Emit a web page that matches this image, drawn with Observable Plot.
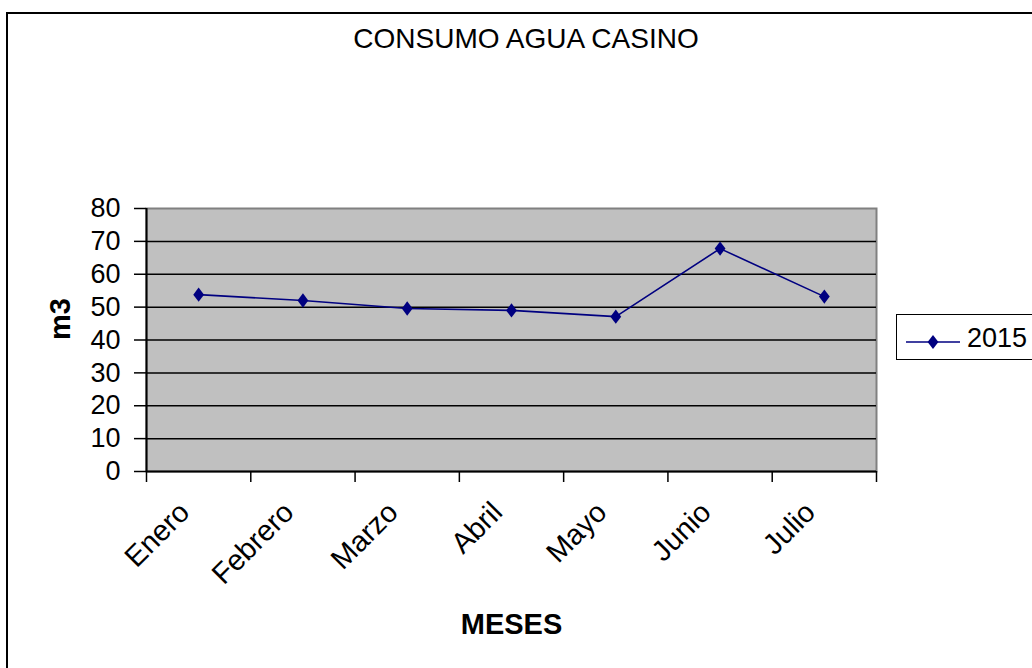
<!DOCTYPE html>
<html>
<head>
<meta charset="utf-8">
<script src="https://cdn.jsdelivr.net/npm/d3@7"></script>
<script src="https://cdn.jsdelivr.net/npm/@observablehq/plot@0.6"></script>
<style>
  body { margin: 0; background: #fff; font-family: "Liberation Sans", Arial, sans-serif; }
  #wrap { position: relative; width: 1032px; height: 668px; overflow: hidden; }
  #frame { position: absolute; left: 6px; top: 12px; width: 1100px; height: 800px;
           border-left: 2px solid #000; border-top: 2px solid #000; box-sizing: border-box; }
  #title { position: relative; height: 60px; text-align: center; font-size: 28px;
           line-height: 28px; padding-top: 25px; box-sizing: border-box; padding-left: 20px; color: #000; }
  #legend { position: absolute; left: 896px; top: 314px; width: 160px; height: 46px;
            border: 1px solid #000; box-sizing: border-box; background: #fff; }
  #legend svg { position: absolute; left: 9px; top: 0; }
  #legend span { position: absolute; left: 70px; top: 8px; font-size: 27px; line-height: 30px; }
  #chart { position: relative; }
</style>
</head>
<body>
<div id="wrap">
  <div id="frame"></div>
  <div id="title">CONSUMO AGUA CASINO</div>
  <div id="chart"></div>
  <div id="legend">
    <svg width="56" height="46"><line x1="0" x2="54" y1="27" y2="27" stroke="#000080" stroke-width="1.5"></line>
      <path d="M27,20 L32.4,27 L27,34 L21.6,27 Z" fill="#000080"></path></svg>
    <span>2015</span>
  </div>
</div>
<script>
const months = ["Enero", "Febrero", "Marzo", "Abril", "Mayo", "Junio", "Julio"];
const values2015 = [53.8, 52.0, 49.6, 49.0, 47.1, 67.8, 53.2];
const yTicks = [0, 10, 20, 30, 40, 50, 60, 70, 80];
const seriesName = "2015";

const data = months.map((m, i) => ({month: m, pos: i + 0.5, value: values2015[i]}));
const boundaries = d3.range(months.length + 1);

const diamond = {
  draw(ctx, size) {
    const r = Math.sqrt(size / Math.PI);
    const h = r * 1.2, w = r * 0.9;
    ctx.moveTo(0, -h); ctx.lineTo(w, 0); ctx.lineTo(0, h); ctx.lineTo(-w, 0); ctx.closePath();
  }
};

const chart = Plot.plot({
  width: 1032,
  height: 608,
  marginLeft: 146,
  marginRight: 156,
  marginTop: 148,
  marginBottom: 197,
  style: {fontFamily: "'Liberation Sans', Arial, sans-serif", fontSize: "27px", color: "#000", background: "transparent", overflow: "visible"},
  x: {domain: [0, months.length], axis: null},
  y: {domain: [0, 80], axis: null},
  marks: [
    Plot.frame({fill: "#c0c0c0", stroke: "#808080", strokeWidth: 2}),
    Plot.gridY(yTicks.filter(d => d > 0 && d < 80), {stroke: "#000", strokeOpacity: 1, strokeWidth: 1.5}),
    Plot.axisY({ticks: yTicks, tickSize: 12, tickPadding: 14, stroke: "#000", strokeWidth: 1.5, label: null, fontSize: 27}),
    Plot.axisX({ticks: boundaries, tickSize: 11, tickFormat: () => "", stroke: "#000", strokeWidth: 1.5, label: null}),
    Plot.axisX({ticks: data.map(d => d.pos), tickSize: 0, tickPadding: 36, tickRotate: -45, dx: -14,
                tickFormat: p => months[Math.floor(p)], label: null, fontSize: 29}),
    Plot.ruleX([0], {stroke: "#000", strokeWidth: 2}),
    Plot.ruleY([0], {stroke: "#000", strokeWidth: 2}),
    Plot.line(data, {x: "pos", y: "value", stroke: "#000080", strokeWidth: 1.6}),
    Plot.dot(data, {x: "pos", y: "value", symbol: diamond, r: 6, fill: "#000080", stroke: "none"}),
    Plot.text(["m3"], {frameAnchor: "left", dx: -86, rotate: -90, fontWeight: "bold", fontSize: 29}),
    Plot.text(["MESES"], {frameAnchor: "bottom", dy: 162, fontWeight: "bold", fontSize: 29})
  ]
});
document.getElementById("chart").appendChild(chart);
</script>
</body>
</html>
